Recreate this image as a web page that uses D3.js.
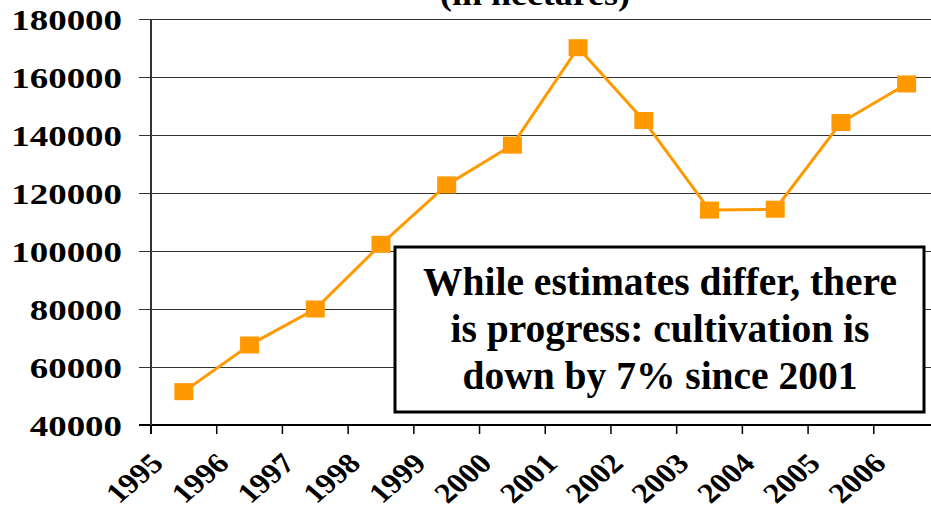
<!DOCTYPE html>
<html>
<head>
<meta charset="utf-8">
<script src="https://cdn.jsdelivr.net/npm/d3@7"></script>
<style>
  body { margin: 0; background: #fff; }
</style>
</head>
<body>
<div id="chart"></div>
<script>
// opium poppy cultivation, hectares
var years = ["1995","1996","1997","1998","1999","2000","2001","2002","2003","2004","2005","2006"];
var hectares = [51500, 67600, 80000, 102300, 122800, 136500, 170100, 145000, 114100, 114400, 144300, 157600];
var yTicks = [40000, 60000, 80000, 100000, 120000, 140000, 160000, 180000];
var titleText = "(in hectares)";
var noteLines = ["While estimates differ, there", "is progress: cultivation is", "down by 7% since 2001"];

var W = 931, H = 513;
var stretch = 1.16; // source picture is a bit wide
var FONT = "Liberation Serif";

var svg = d3.select("#chart").append("svg")
  .attr("width", W).attr("height", H)
  .style("font-family", FONT)
  .style("font-weight", "bold");

var x = d3.scaleBand().domain(years).range([151, 939.5]);
var y = d3.scaleLinear().domain([40000, 180000]).range([425, 19]);

// title, mostly cut off at top
svg.append("text")
  .attr("transform", "translate(535,5) scale(" + stretch + ",1)")
  .attr("text-anchor", "middle")
  .style("font-family", FONT)
  .style("font-size", "31px")
  .text(titleText);

// gridlines + y labels
var yAxis = svg.append("g")
  .attr("transform", "translate(151,0)")
  .call(d3.axisLeft(y).tickValues(yTicks).tickSize(-(W - 151)).tickFormat(d3.format("d")));
yAxis.attr("font-family", null).attr("font-size", null);
yAxis.select(".domain").remove();
yAxis.selectAll(".tick line")
  .attr("x1", -12)
  .attr("stroke", "#333")
  .attr("stroke-width", 1);
yAxis.selectAll(".tick text")
  .attr("x", null)
  .attr("transform", "translate(-29,0) scale(1.23,1)")
  .attr("dy", "0.34em")
  .attr("text-anchor", "end")
  .attr("fill", "#000")
  .style("font-family", FONT)
  .style("font-weight", "bold")
  .style("font-size", "30px");

// x axis line and ticks at category edges
svg.append("line")
  .attr("x1", 139).attr("x2", W)
  .attr("y1", y(40000)).attr("y2", y(40000))
  .attr("stroke", "#000").attr("stroke-width", 2);
svg.append("line")
  .attr("x1", 151).attr("x2", 151)
  .attr("y1", y(180000)).attr("y2", y(40000) + 9)
  .attr("stroke", "#333").attr("stroke-width", 2);

svg.append("g").selectAll("line")
  .data(years)
  .join("line")
  .attr("x1", function(d){ return x(d); })
  .attr("x2", function(d){ return x(d); })
  .attr("y1", y(40000))
  .attr("y2", y(40000) + 9)
  .attr("stroke", "#000").attr("stroke-width", 1.5);

svg.append("g").selectAll("text")
  .data(years)
  .join("text")
  .attr("transform", function(d){ return "translate(" + (x(d) + 14) + ",465) scale(" + stretch + ",1) rotate(-45)"; })
  .attr("text-anchor", "end")
  .style("font-family", FONT)
  .style("font-size", "28px")
  .text(function(d){ return d; });

// series
var pts = years.map(function(d, i){ return { year: d, v: hectares[i] }; });
var line = d3.line()
  .x(function(d){ return x(d.year) + x.bandwidth() / 2; })
  .y(function(d){ return y(d.v); });

svg.append("path")
  .datum(pts)
  .attr("d", line)
  .attr("fill", "none")
  .attr("stroke", "#FF9900")
  .attr("stroke-width", 3);

svg.append("g").selectAll("rect")
  .data(pts)
  .join("rect")
  .attr("x", function(d){ return x(d.year) + x.bandwidth() / 2 - 9.5; })
  .attr("y", function(d){ return y(d.v) - 8.5; })
  .attr("width", 19)
  .attr("height", 17)
  .attr("fill", "#FF9900");

// annotation box
var note = svg.append("g");
note.append("rect")
  .attr("x", 395).attr("y", 247)
  .attr("width", 529).attr("height", 165)
  .attr("fill", "#fff")
  .attr("stroke", "#000")
  .attr("stroke-width", 3);
note.selectAll("text")
  .data(noteLines)
  .join("text")
  .attr("x", 660)
  .attr("y", function(d, i){ return 295 + i * 47; })
  .attr("text-anchor", "middle")
  .style("font-family", FONT)
  .style("font-size", "39.5px")
  .text(function(d){ return d; });
</script>
</body>
</html>
